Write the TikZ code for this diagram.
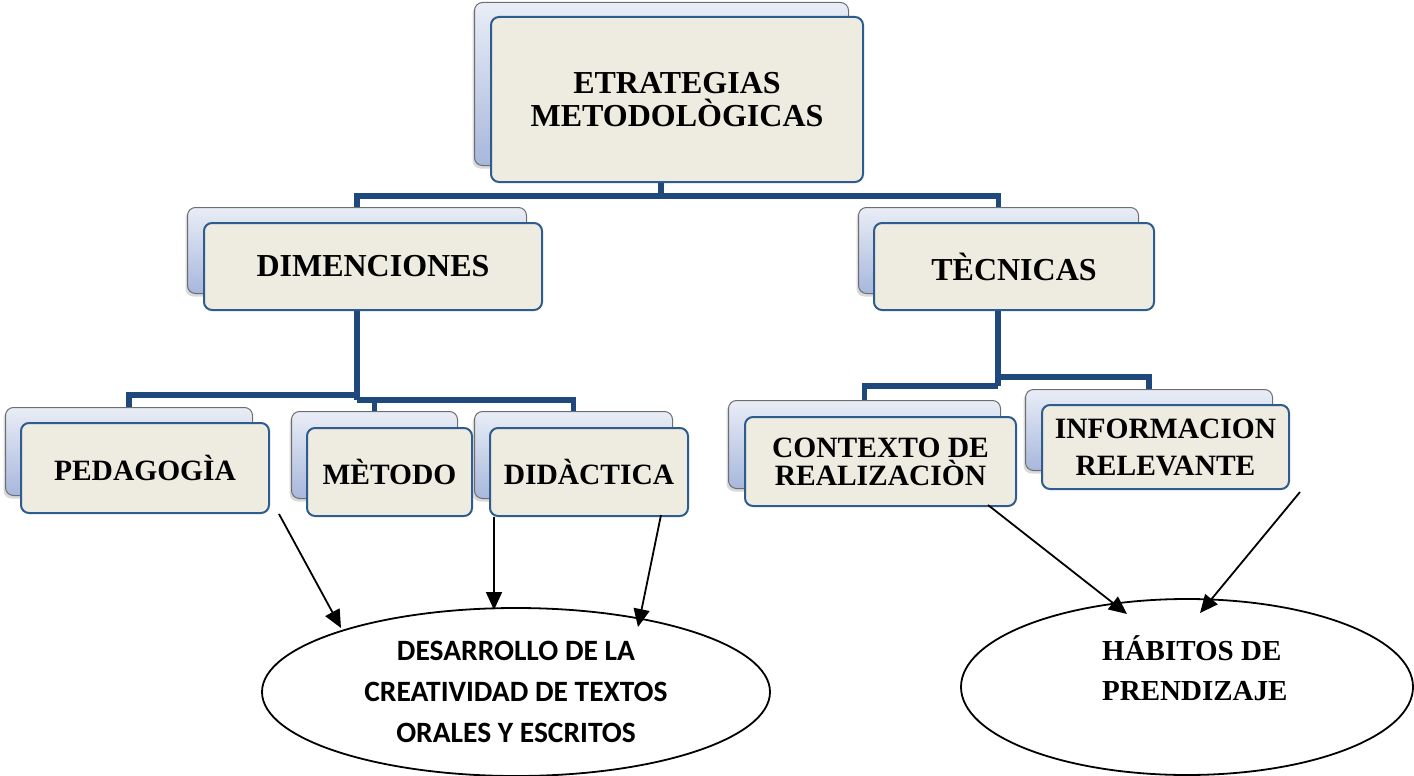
\documentclass[tikz,border=0pt]{standalone}
\usepackage{fontspec}
\setmainfont{Liberation Serif}
\newfontfamily\calib{Carlito}
\usetikzlibrary{arrows.meta,shapes.geometric,shadows}
\definecolor{conncol}{HTML}{1F497D}
\definecolor{frontfill}{HTML}{EEECE1}
\definecolor{frontdraw}{HTML}{2E5C8F}
\definecolor{backtop}{HTML}{E9EDF6}
\definecolor{backbot}{HTML}{A7B7DC}
\definecolor{backdraw}{HTML}{6E6E6E}
\begin{document}
\begin{tikzpicture}[x=1pt,y=-1pt,
  backbox/.style={rectangle, rounded corners=8pt, draw=backdraw, line width=1pt,
    top color=backtop, bottom color=backbot, anchor=north west, inner sep=0pt,
    drop shadow={shadow xshift=-2pt, shadow yshift=-3pt, opacity=0.3}},
  frontbox/.style={rectangle, rounded corners=8pt, draw=frontdraw, line width=2pt,
    fill=frontfill, anchor=north west, inner sep=0pt, align=center},
  bigfont/.style={font=\bfseries\fontsize{32}{33}\selectfont},
  midfont/.style={font=\bfseries\fontsize{29.5}{28}\selectfont},
  conn/.style={draw=conncol, line width=5.5pt, line join=miter},
  arr/.style={draw=black, line width=1.8pt, -{Triangle[length=18pt,width=16pt]}},
  oval/.style={ellipse, draw=black, line width=1.8pt, inner sep=0pt}
]
\useasboundingbox (0,0) rectangle (1414,776);

% top level
\node[backbox, minimum width=374pt, minimum height=163pt] (topB) at (474,2) {};
\node[frontbox, bigfont, minimum width=372pt, minimum height=165pt] (top) at (490,16) {ETRATEGIAS\\METODOLÒGICAS};

% second level
\node[backbox, minimum width=339pt, minimum height=86pt] (dimB) at (187,207) {};
\node[frontbox, bigfont, minimum width=338pt, minimum height=87pt] (dim) at (203,222) {DIMENCIONES};
\node[backbox, minimum width=280pt, minimum height=86pt] (tecB) at (858,207) {};
\node[frontbox, bigfont, minimum width=280pt, minimum height=87pt] (tec) at (873,222) {TÈCNICAS};

% third level
\node[backbox, minimum width=247pt, minimum height=88pt] (pedB) at (5,407) {};
\node[frontbox, midfont, minimum width=248pt, minimum height=90pt] (ped) at (20,422) {PEDAGOGÌA};
\node[backbox, minimum width=166pt, minimum height=87pt] (metB) at (291,411) {};
\node[frontbox, midfont, minimum width=165pt, minimum height=88pt] (met) at (306,427) {MÈTODO};
\node[backbox, minimum width=198pt, minimum height=87pt] (didB) at (474,411) {};
\node[frontbox, midfont, minimum width=198pt, minimum height=88pt] (did) at (489,427) {DIDÀCTICA};
\node[backbox, minimum width=272pt, minimum height=88pt] (conB) at (728,400) {};
\node[frontbox, midfont, minimum width=271pt, minimum height=89pt] (con) at (744,416) {CONTEXTO DE\\REALIZACIÒN};
\node[backbox, minimum width=247pt, minimum height=81pt] (infB) at (1025,389) {};
\node[frontbox, font=\bfseries\fontsize{29.5}{37}\selectfont, minimum width=247pt, minimum height=84pt] (inf) at (1041,404) {INFORMACION\\RELEVANTE};

% connectors
\coordinate (j1) at (661,196);
\draw[conn] (top.south -| j1) -- (j1);
\draw[conn] (dimB.north) |- (j1) -| (tecB.north);

\coordinate (j2) at (357,395);
\coordinate (j2b) at (357,400);
\draw[conn] (dim.south -| j2) -- (j2b);
\draw[conn] (pedB.north) |- (j2);
\draw[conn] (metB.north) |- (j2b) -| (didB.north);

\coordinate (j3) at (998,377);
\coordinate (j3b) at (998,386);
\draw[conn] (tec.south -| j3) -- (j3b);
\draw[conn] (j3) -| (infB.north);
\draw[conn] (conB.north) |- (j3b);

% ellipses
\node[oval, minimum width=508pt, minimum height=168pt, align=center,
  font=\calib\bfseries\fontsize{29.5}{41}\selectfont] (ell1) at (516,692)
  {DESARROLLO DE LA\\CREATIVIDAD DE TEXTOS\\ORALES Y ESCRITOS};
\node[oval, minimum width=452pt, minimum height=176pt] (ell2) at (1187,687) {};
\node[anchor=west, align=left, inner sep=0pt, font=\bfseries\fontsize{29}{40}\selectfont] (hab) at (1102,668)
  {HÁBITOS DE\\PRENDIZAJE};

% arrows
\coordinate (s1) at (279,514);
\coordinate (t1) at (341,628);
\coordinate (t2) at (494,610);
\coordinate (s3) at (661,515);
\coordinate (t3) at (638,627);
\coordinate (s4) at (988,505);
\coordinate (t4) at (1127,614);
\coordinate (s5) at (1300,492);
\coordinate (t5) at (1200,613);
\draw[arr] (s1) -- (t1);
\draw[arr] (did.south west -| t2) -- (t2);
\draw[arr] (s3) -- (t3);
\draw[arr] (s4) -- (t4);
\draw[arr] (s5) -- (t5);
\end{tikzpicture}
\end{document}
